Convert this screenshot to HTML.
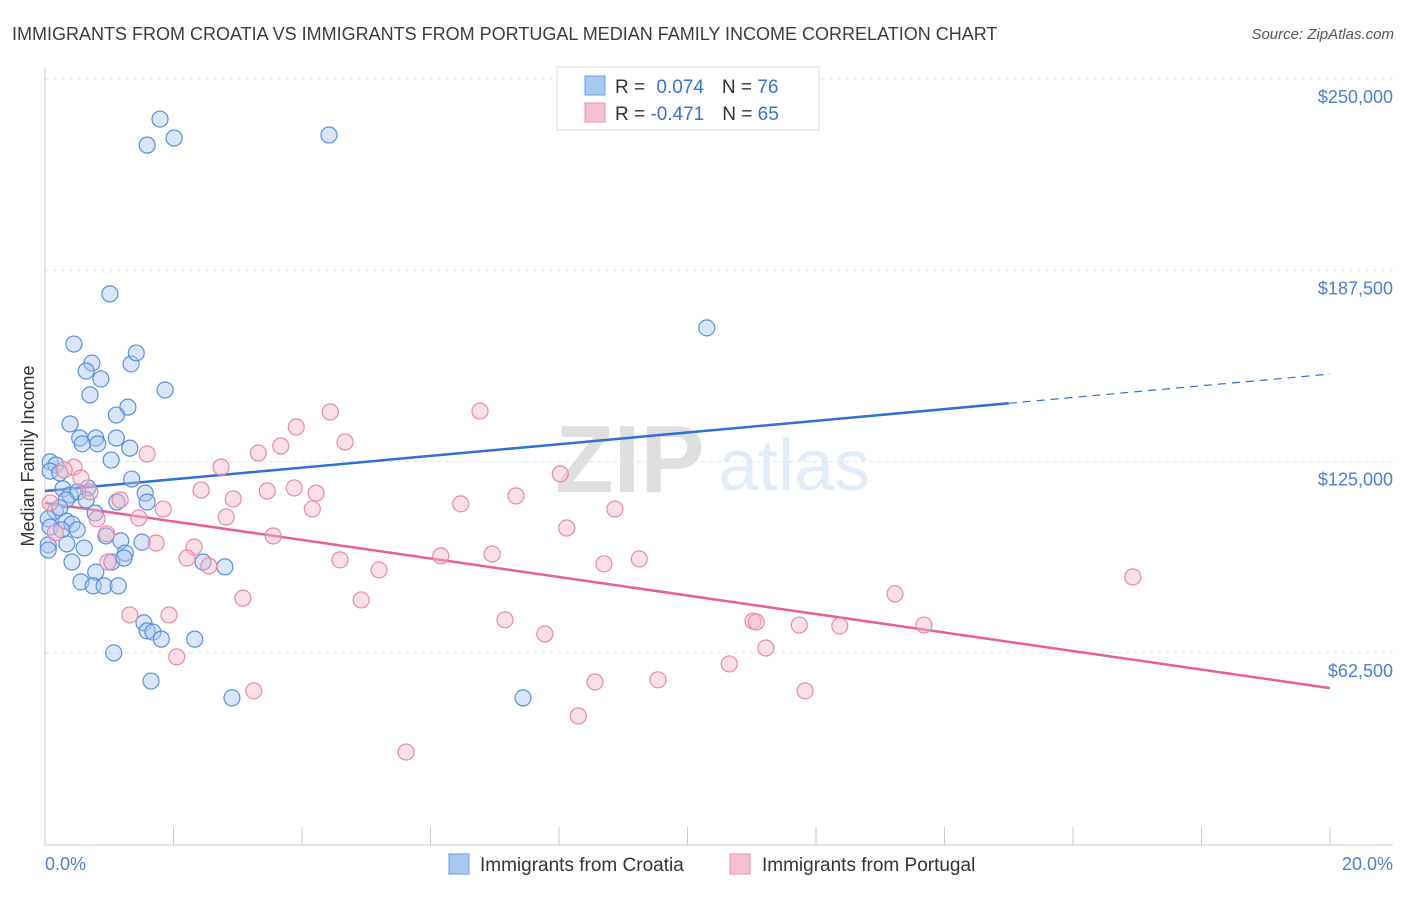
<!DOCTYPE html>
<html><head><meta charset="utf-8"><style>
body{margin:0;background:#fff;font-family:"Liberation Sans",sans-serif;}
svg text{font-family:"Liberation Sans",sans-serif;}
</style></head><body>
<svg id="chart" width="1406" height="892" viewBox="0 0 1406 892" xmlns="http://www.w3.org/2000/svg">
<text x="12" y="40" font-size="18" fill="#3c3c3c">IMMIGRANTS FROM CROATIA VS IMMIGRANTS FROM PORTUGAL MEDIAN FAMILY INCOME CORRELATION CHART</text>
<text x="1394" y="39" font-size="15" fill="#555" text-anchor="end" font-style="italic">Source: ZipAtlas.com</text>
<g opacity="0.18">
<text x="555" y="492" font-size="96" font-family="Liberation Serif" fill="#555" font-weight="bold">ZIP</text>
<text x="718" y="490" font-size="72" fill="#6a9be0">atlas</text>
</g>
<g id="grid"></g>
<g id="axes"></g>
<g id="trend"></g>
<g id="points"></g>
<text transform="translate(34,456) rotate(-90)" font-size="18" fill="#333" text-anchor="middle">Median Family Income</text>
<text x="45" y="870" font-size="18" fill="#4a7fd4">0.0%</text>
<text x="1393" y="870" font-size="18" fill="#4a7fd4" text-anchor="end">20.0%</text>
<g>
<rect x="557" y="67" width="262" height="63" fill="#fff" stroke="#ddd"/>
<rect x="585" y="76" width="20" height="19" fill="#a8c8f0" stroke="#6a9be0"/>
<rect x="585" y="103" width="20" height="19" fill="#f5c0d0" stroke="#e890a8"/>
<text x="615" y="93" font-size="19" fill="#333">R = <tspan fill="#3a72d0" dx="6">0.074</tspan><tspan dx="18">N = </tspan><tspan fill="#3a72d0">76</tspan></text>
<text x="615" y="120" font-size="19" fill="#333">R = <tspan fill="#3a72d0">-0.471</tspan><tspan dx="18">N = </tspan><tspan fill="#3a72d0">65</tspan></text>
</g>
<g>
<rect x="449" y="854" width="20" height="20" fill="#a8c8f0" stroke="#6a9be0"/>
<text x="480" y="871" font-size="19" fill="#333">Immigrants from Croatia</text>
<rect x="730" y="854" width="20" height="20" fill="#f5c0d0" stroke="#e890a8"/>
<text x="762" y="871" font-size="19" fill="#333">Immigrants from Portugal</text>
</g>
</svg>
<script>
const yTicks=[62500,125000,187500,250000];
const yTickLabels=["$62,500","$125,000","$187,500","$250,000"];
const xTicks=[0,2,4,6,8,10,12,14,16,18,20];
const croatiaX=[1.79,1.59,2.01,4.42,1.01,10.30,0.45,0.73,1.34,1.42,0.64,0.87,0.70,1.87,1.29,1.11,0.39,0.54,0.79,1.11,0.58,0.82,1.32,1.03,0.08,0.17,0.08,0.23,1.35,1.56,0.28,0.67,0.39,0.51,0.33,1.12,1.59,0.64,0.16,0.78,0.33,0.42,0.05,0.08,0.26,0.50,0.05,0.34,0.95,1.18,1.51,0.61,0.05,1.25,1.04,0.42,0.79,1.23,2.46,2.80,0.56,0.75,0.92,1.14,1.54,1.59,1.68,1.81,2.33,1.07,1.65,2.91,7.44,0.23];
const croatiaY=[236.9,228.4,230.7,231.7,179.8,168.7,163.4,157.2,156.9,160.5,154.6,152.0,146.8,148.4,142.8,140.2,137.3,132.7,132.7,132.7,130.8,130.8,129.4,125.5,124.9,123.9,121.9,121.3,119.3,114.7,116.1,116.4,114.1,115.1,112.5,111.8,111.8,112.5,108.9,108.2,105.6,104.6,106.3,103.6,102.7,102.7,97.8,98.1,100.7,99.1,98.7,96.8,96.1,95.1,92.2,92.2,88.9,93.5,92.2,90.6,85.7,84.4,84.4,84.4,72.3,69.7,69.3,67.0,67.0,62.5,53.3,47.8,47.8,109.9];
const portugalX=[6.77,4.44,3.91,4.67,3.67,3.32,1.59,0.45,2.74,8.02,0.70,2.43,3.46,3.88,4.22,1.17,2.93,7.33,6.47,1.84,8.87,0.81,1.46,2.82,4.16,8.12,3.55,0.96,1.73,2.32,6.16,6.96,9.25,0.98,2.21,2.55,4.59,5.20,8.70,16.93,3.08,4.92,13.23,1.32,1.93,7.16,11.02,11.07,11.74,12.37,13.68,7.78,11.22,2.05,10.65,3.25,8.56,9.54,11.83,8.30,5.62,0.30,0.56,0.16,0.08];
const portugalY=[141.5,141.2,136.3,131.4,130.1,127.8,127.5,123.2,123.2,121.0,115.1,115.7,115.4,116.4,114.7,112.5,112.8,113.8,111.2,109.5,109.5,106.3,106.6,106.9,109.5,103.3,100.7,101.4,98.4,97.1,94.2,94.8,93.2,92.2,93.5,90.9,92.9,89.6,91.6,87.3,80.4,79.8,81.8,74.9,74.9,73.3,72.9,72.6,71.6,71.3,71.6,68.7,64.1,61.2,58.9,50.1,53.0,53.7,50.1,41.9,30.1,122.3,119.6,101.7,111.5];
const croatiaTrend=[115.4,153.6]; // value at 0% and 20% (thousands)
const portugalTrend=[111.5,51.0];
const croatiaSolidEnd=15;

const NS="http://www.w3.org/2000/svg";
const X0=45,X1=1330,Y250=79,YSTEP=191.3;
function sx(p){return X0+(p/20)*(X1-X0);}
function sy(v){return Y250+(250000-v)/62500*YSTEP;}
function mk(tag,attrs,parent){const e=document.createElementNS(NS,tag);for(const k in attrs)e.setAttribute(k,attrs[k]);parent.appendChild(e);return e;}
const grid=document.getElementById('grid'),axes=document.getElementById('axes'),trend=document.getElementById('trend'),pts=document.getElementById('points');
yTicks.forEach((v,i)=>{
 const l=mk('line',{x1:X0,x2:1393,y1:sy(v),y2:sy(v),stroke:'#e2e2e2','stroke-dasharray':'4,4'},grid);
 
 
 const t=mk('text',{x:1393,y:sy(v)+24,'font-size':18,fill:'#4a7fd4','text-anchor':'end'},axes);
 t.textContent=yTickLabels[i];
 
 
});
const ya=mk('line',{x1:X0,x2:X0,y1:68,y2:845,stroke:'#ccc'},axes);


const xa=mk('line',{x1:X0,x2:1393,y1:845,y2:845,stroke:'#ccc'},axes);


xTicks.forEach(p=>{
 const t=mk('line',{x1:sx(p),x2:sx(p),y1:827,y2:845,stroke:'#ccc'},axes);
 
 
});
function series(xs,ys,fill,stroke,name){
 xs.forEach((x,i)=>{
  const c=mk('circle',{cx:sx(x),cy:sy(ys[i]*1000),r:8,fill:fill,'fill-opacity':0.45,stroke:stroke,'stroke-width':1.2},pts);
  
  
 });
}
series(croatiaX,croatiaY,'#a8c8f0','#5a8fe0','croatia-point');
series(portugalX,portugalY,'#f5b8c8','#e88aa8','portugal-point');
function tv(t,p){return (t[0]+(t[1]-t[0])*p/20)*1000;}
const b1=mk('line',{x1:sx(0),y1:sy(tv(croatiaTrend,0)),x2:sx(croatiaSolidEnd),y2:sy(tv(croatiaTrend,croatiaSolidEnd)),stroke:'#2f6fd6','stroke-width':2.5},trend);


const b2=mk('line',{x1:sx(croatiaSolidEnd),y1:sy(tv(croatiaTrend,croatiaSolidEnd)),x2:sx(20),y2:sy(tv(croatiaTrend,20)),stroke:'#2f6fd6','stroke-width':1.2,'stroke-dasharray':'8,6'},trend);


const p1=mk('line',{x1:sx(0),y1:sy(tv(portugalTrend,0)),x2:sx(20),y2:sy(tv(portugalTrend,20)),stroke:'#e8608e','stroke-width':2.5},trend);


</script>
</body></html>
